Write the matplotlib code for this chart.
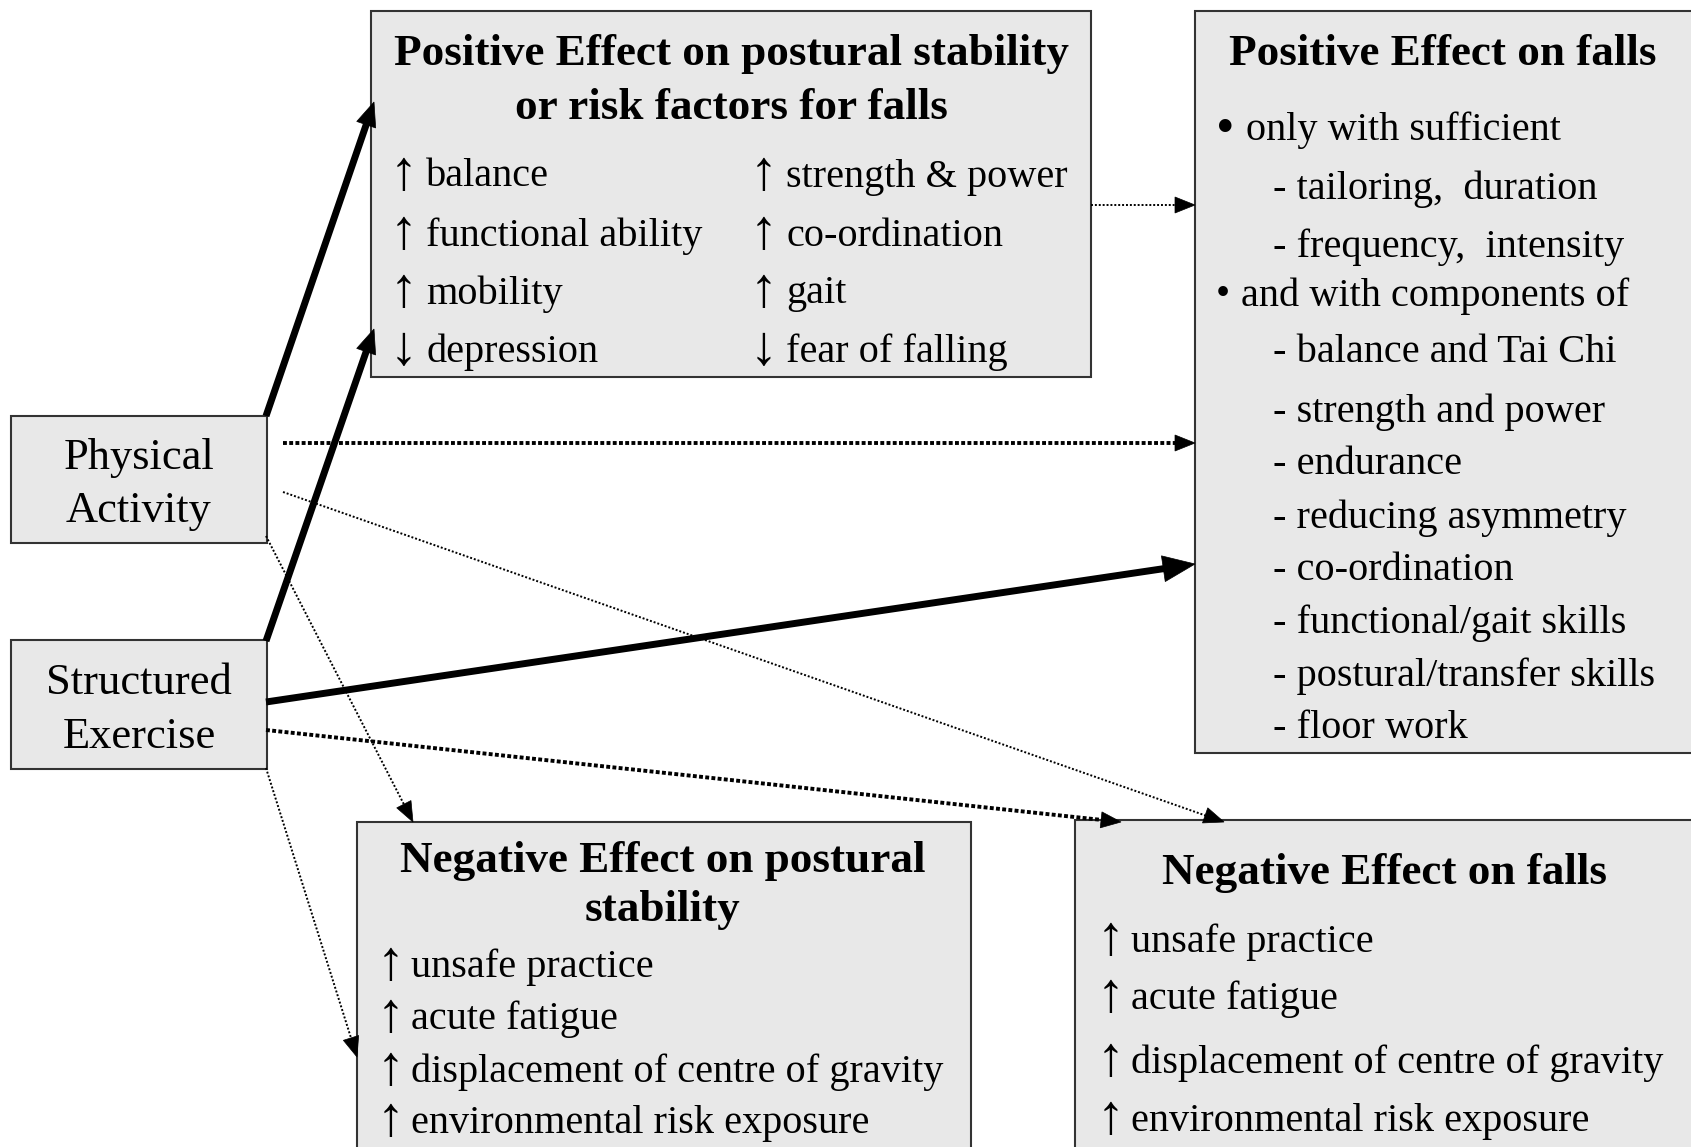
import numpy as np
import matplotlib.pyplot as plt
from matplotlib.patches import Rectangle, Polygon

plt.rcParams['font.family'] = ['Liberation Serif', 'DejaVu Serif']

# boxes: x0, y0, x1, y1 in pixel coords (y down)
boxes = {
    'pa': (11, 416, 267, 543),
    'se': (11, 640, 267, 769),
    'pos_post': (371, 11, 1091, 377),
    'pos_falls': (1195, 11, 1695, 753),
    'neg_post': (357, 822, 971, 1150),
    'neg_falls': (1075, 820, 1695, 1150),
}

source_labels = [['Physical', 'Activity'], ['Structured', 'Exercise']]
source_y = [[454, 507], [679, 733]]

pos_post_title = ['Positive Effect on postural stability', 'or risk factors for falls']
pos_post_title_y = [50, 104]
pos_post_left = [('↑', 'balance'), ('↑', 'functional ability'), ('↑', 'mobility'), ('↓', 'depression')]
pos_post_right = [('↑', 'strength & power'), ('↑', 'co-ordination'), ('↑', 'gait'), ('↓', 'fear of falling')]
pos_post_y = [173, 232, 290, 348]

pos_falls_title = 'Positive Effect on falls'
pos_falls_items = [
    ('•', 'only with sufficient', 0),
    ('', '- tailoring,  duration', 1),
    ('', '- frequency,  intensity', 1),
    ('•', 'and with components of', 0),
    ('', '- balance and Tai Chi', 1),
    ('', '- strength and power', 1),
    ('', '- endurance', 1),
    ('', '- reducing asymmetry', 1),
    ('', '- co-ordination', 1),
    ('', '- functional/gait skills', 1),
    ('', '- postural/transfer skills', 1),
    ('', '- floor work', 1),
]
pos_falls_y = [126, 185, 243, 292, 349, 408, 460, 514, 566, 619, 672, 724]

neg_post_title = ['Negative Effect on postural', 'stability']
neg_post_title_y = [857, 906]
neg_post_items = ['unsafe practice', 'acute fatigue',
                  'displacement of centre of gravity', 'environmental risk exposure']
neg_post_y = [963, 1015, 1068, 1119]

neg_falls_title = 'Negative Effect on falls'
neg_falls_items = ['unsafe practice', 'acute fatigue',
                   'displacement of centre of gravity', 'environmental risk exposure']
neg_falls_y = [938, 995, 1059, 1117]

# arrows: start, end, style, head length, head width
arrows = [
    ((266, 416), (374, 102), 'thick', 24, 20),
    ((266, 641), (374, 329), 'thick', 24, 20),
    ((266, 702), (1195, 564), 'thick', 32, 26),
    ((1091, 205), (1195, 205), 'dot', 20, 16),
    ((283, 443), (1195, 443), 'dotbold', 20, 16),
    ((283, 492), (1224, 822), 'dot', 20, 16),
    ((266, 536), (413, 822), 'dot', 20, 16),
    ((266, 730), (1121, 822), 'dotbold', 20, 16),
    ((266, 768), (357, 1057), 'dot', 20, 16),
]

fig = plt.figure(figsize=(16.91, 11.47), dpi=100)
ax = fig.add_axes([0, 0, 1, 1])
ax.set_xlim(0, 1691)
ax.set_ylim(1147, 0)
ax.axis('off')

for key, (x0, y0, x1, y1) in boxes.items():
    ax.add_patch(Rectangle((x0, y0), x1 - x0, y1 - y0, facecolor='#e8e8e8',
                           edgecolor='#333333', linewidth=1.5, zorder=1))

styles = {'thick': dict(lw=5, ls='-'),
          'dotbold': dict(lw=2.8, ls=(0, (1, 0.6))),
          'dot': dict(lw=1.4, ls=(0, (1, 1)))}
for (x0, y0), (x1, y1), st, hl, hw in arrows:
    d = np.array([x1 - x0, y1 - y0], dtype=float)
    d /= np.hypot(*d)
    n = np.array([-d[1], d[0]])
    base = np.array([x1, y1]) - d * hl
    ax.plot([x0, base[0] + d[0] * 2], [y0, base[1] + d[1] * 2], color='black',
            solid_capstyle='butt', zorder=3, **styles[st])
    head = [(x1, y1), tuple(base + n * hw / 2), tuple(base - n * hw / 2)]
    ax.add_patch(Polygon(head, closed=True, facecolor='black', edgecolor='black',
                         lw=0.5, zorder=4))

body = 29
title = 32.5
dy = 4       # nudge for va='center'
arrow_size = 40


def item(x, y, sym, txt, gap=36):
    ax.text(x, y + dy - 2, sym, ha='left', va='center', fontsize=arrow_size, zorder=5)
    ax.text(x + gap, y + dy, txt, ha='left', va='center', fontsize=body, zorder=5)


# source boxes
for (x0, y0, x1, y1), labs, ys in zip([boxes['pa'], boxes['se']], source_labels, source_y):
    for lab, y in zip(labs, ys):
        ax.text((x0 + x1) / 2, y + dy, lab, ha='center', va='center',
                fontsize=32, zorder=5)

# positive effect on postural stability
for txt, y in zip(pos_post_title, pos_post_title_y):
    ax.text(731, y + dy, txt, ha='center', va='center', fontsize=title,
            fontweight='bold', zorder=5)
for (sa, a), (sb, b), y in zip(pos_post_left, pos_post_right, pos_post_y):
    item(390, y, sa, a)
    item(750, y, sb, b)

# positive effect on falls
ax.text(1443, 50 + dy, pos_falls_title, ha='center', va='center', fontsize=title,
        fontweight='bold', zorder=5)
for i, ((sym, txt, lvl), y) in enumerate(zip(pos_falls_items, pos_falls_y)):
    if lvl == 0:
        ax.text(1216, y + dy, sym, ha='left', va='center',
                fontsize=body * (1.3 if i == 0 else 1.0), zorder=5)
        ax.text(1246 if i == 0 else 1241, y + dy, txt, ha='left', va='center',
                fontsize=body, zorder=5)
    else:
        ax.text(1273, y + dy, txt, ha='left', va='center', fontsize=body, zorder=5)

# negative effect on postural stability
for txt, y in zip(neg_post_title, neg_post_title_y):
    ax.text(663, y + dy, txt, ha='center', va='center', fontsize=title,
            fontweight='bold', zorder=5)
for txt, y in zip(neg_post_items, neg_post_y):
    item(377, y, '↑', txt, gap=34)

# negative effect on falls
ax.text(1384, 869 + dy, neg_falls_title, ha='center', va='center', fontsize=title,
        fontweight='bold', zorder=5)
for txt, y in zip(neg_falls_items, neg_falls_y):
    item(1097, y, '↑', txt, gap=34)

fig.savefig('out.png', dpi=100, facecolor='white')
